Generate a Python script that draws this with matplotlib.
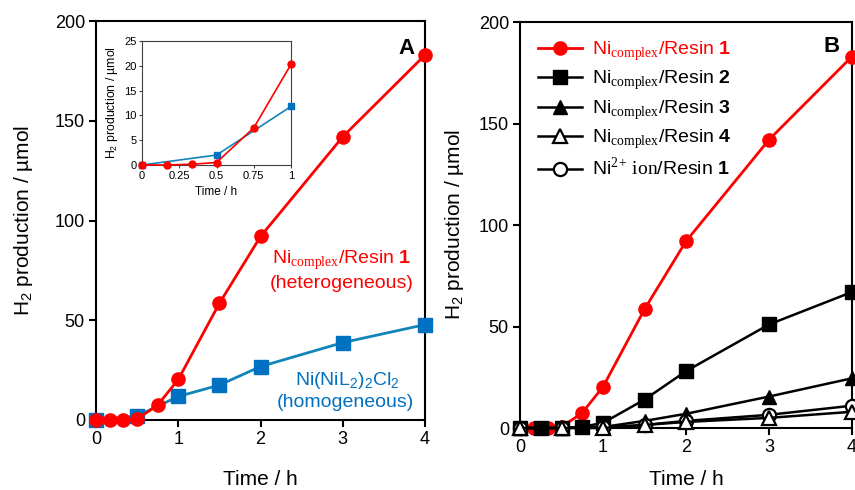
import matplotlib
matplotlib.use('Agg')
import matplotlib.pyplot as plt

plt.rcParams['font.family'] = ['Liberation Sans', 'DejaVu Sans']
plt.rcParams['mathtext.fontset'] = 'custom'
plt.rcParams['mathtext.rm'] = 'Liberation Serif'
plt.rcParams['mathtext.sf'] = 'Liberation Sans'
plt.rcParams['mathtext.bf'] = 'Liberation Sans:bold'

# Panel A data
tA_red = [0, 0.167, 0.333, 0.5, 0.75, 1, 1.5, 2, 3, 4]
yA_red = [0, 0, 0.15, 0.5, 7.5, 20.3, 58.5, 92, 142, 183]
tA_blue = [0, 0.5, 1, 1.5, 2, 3, 4]
yA_blue = [0, 2, 11.8, 17.5, 26.8, 38.8, 47.8]

# Panel B data
tB_red = [0, 0.167, 0.333, 0.5, 0.75, 1, 1.5, 2, 3, 4]
yB_red = [0, 0, 0.15, 0.5, 7.5, 20.3, 58.5, 92, 142, 183]
tB_r2 = [0, 0.25, 0.5, 0.75, 1, 1.5, 2, 3, 4]
yB_r2 = [0, 0, 0, 0.6, 2.5, 14, 28, 51, 67]
tB_r3 = [0, 0.5, 1, 1.5, 2, 3, 4]
yB_r3 = [0, 0, 0.5, 3.5, 7, 15.5, 24.5]
tB_r4 = [0, 0.5, 1, 1.5, 2, 3, 4]
yB_r4 = [0, 0, 0, 1.5, 3, 5, 8]
tB_ion = [0, 0.5, 1, 1.5, 2, 3, 4]
yB_ion = [0, 0, 0.3, 1.5, 3.5, 6.5, 11]

RED = '#ff0000'
BLUE = '#0070c0'
BLUE_LINE = '#1184b8'

fig = plt.figure(figsize=(8.55, 4.9), dpi=100)
axA = fig.add_axes([0.1123, 0.1429, 0.3848, 0.8141])
axB = fig.add_axes([0.6082, 0.1265, 0.3883, 0.8286])

def style(ax, xpad, ypad):
    for s in ax.spines.values():
        s.set_linewidth(1.5)
    ax.tick_params(direction='out', length=5, width=1.5, labelsize=13, pad=3)
    ax.set_xlim(0, 4)
    ax.set_ylim(0, 200)
    ax.set_xticks([0, 1, 2, 3, 4])
    ax.set_yticks([0, 50, 100, 150, 200])
    ax.set_xlabel('Time / h', fontsize=15, labelpad=xpad)
    ax.set_ylabel('H$_\\mathsf{2}$ production / µmol', fontsize=15, labelpad=ypad)

# ---- Panel A ----
style(axA, 16, 14)
axA.plot(tA_blue, yA_blue, color=BLUE_LINE, lw=2, marker='s', ms=9.5,
         mfc=BLUE, mec=BLUE, clip_on=False, zorder=3)
axA.plot(tA_red, yA_red, color=RED, lw=2, marker='o', ms=9.5,
         mfc=RED, mec=RED, clip_on=False, zorder=4)
axA.text(2.98, 80, 'Ni$_{\\mathrm{complex}}$/Resin $\\mathbf{1}$', color=RED,
         fontsize=14, ha='center', va='center')
axA.text(2.99, 68.5, '(heterogeneous)', color=RED, fontsize=14, ha='center', va='center')
axA.text(3.06, 20, 'Ni(NiL$_\\mathsf{2}$)$_\\mathsf{2}$Cl$_\\mathsf{2}$', color=BLUE,
         fontsize=14, ha='center', va='center')
axA.text(3.03, 9, '(homogeneous)', color=BLUE, fontsize=14, ha='center', va='center')
axA.text(3.78, 186, 'A', fontsize=16, fontweight='bold', ha='center', va='center')

# inset
axI = fig.add_axes([0.1661, 0.6633, 0.1743, 0.2531])
axI.plot(tA_blue[:3], yA_blue[:3], color=BLUE_LINE, lw=1.2, marker='s', ms=5,
         mfc=BLUE, mec=BLUE, clip_on=False, zorder=3)
axI.plot(tA_red[:6], yA_red[:6], color=RED, lw=1.2, marker='o', ms=5,
         mfc=RED, mec=RED, clip_on=False, zorder=4)
axI.set_xlim(0, 1)
axI.set_ylim(0, 25)
axI.set_xticks([0, 0.25, 0.5, 0.75, 1])
axI.set_xticklabels(['0', '0.25', '0.5', '0.75', '1'])
axI.set_yticks([0, 5, 10, 15, 20, 25])
for s in axI.spines.values():
    s.set_linewidth(0.8)
    s.set_color('#404040')
axI.tick_params(direction='out', length=2, width=0.8, labelsize=8, pad=2,
                color='#404040')
axI.set_xlabel('Time / h', fontsize=8.5, labelpad=4)
axI.set_ylabel('H$_\\mathsf{2}$ production / µmol', fontsize=8.8, labelpad=3)

# ---- Panel B ----
style(axB, 10, 9)
axB.plot(tB_red, yB_red, color=RED, lw=2, marker='o', ms=9.5, mfc=RED, mec=RED,
         clip_on=False, zorder=3, label='Ni$_{\\mathrm{complex}}$/Resin $\\mathbf{1}$')
axB.plot(tB_r2, yB_r2, color='black', lw=1.8, marker='s', ms=9.5, mfc='black', mec='black',
         clip_on=False, zorder=4, label='Ni$_{\\mathrm{complex}}$/Resin $\\mathbf{2}$')
axB.plot(tB_r3, yB_r3, color='black', lw=1.8, marker='^', ms=10, mfc='black', mec='black',
         clip_on=False, zorder=5, label='Ni$_{\\mathrm{complex}}$/Resin $\\mathbf{3}$')
axB.plot(tB_r4, yB_r4, color='black', lw=1.8, marker='^', ms=10, mfc='white', mec='black',
         mew=1.6, clip_on=False, zorder=7, label='Ni$_{\\mathrm{complex}}$/Resin $\\mathbf{4}$')
axB.plot(tB_ion, yB_ion, color='black', lw=1.8, marker='o', ms=9.5, mfc='white', mec='black',
         mew=1.6, clip_on=False, zorder=6,
         label='Ni$^{\\mathrm{2}}$${}^{\\mathrm{+}}$ $\\mathrm{ion}$/Resin $\\mathbf{1}$')
leg = axB.legend(loc='upper left', bbox_to_anchor=(0.0, 1.0), frameon=False, fontsize=14,
                 handlelength=2.3, labelspacing=0.3, handletextpad=0.5, borderaxespad=0.5)
leg.get_texts()[0].set_color(RED)
axB.text(3.75, 188, 'B', fontsize=16, fontweight='bold', ha='center', va='center')

fig.savefig('out.png', dpi=100)
